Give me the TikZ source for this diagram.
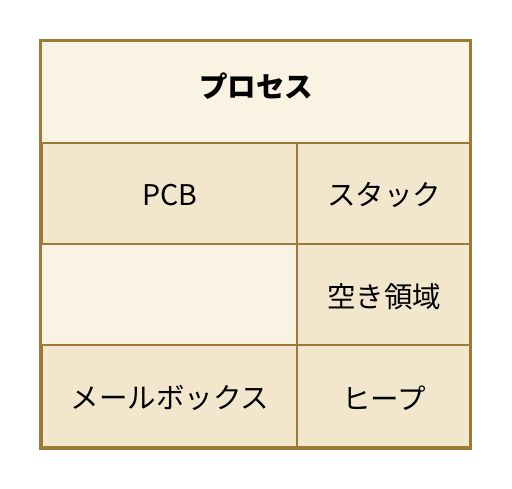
\documentclass[tikz,border=0pt]{standalone}
\usepackage{fontspec}
\setmainfont{Noto Sans CJK JP}
\definecolor{frame}{HTML}{9C7A36}
\definecolor{light}{HTML}{FAF3E4}
\definecolor{cell}{HTML}{F2E6CD}
\begin{document}
\begin{tikzpicture}[x=1pt,y=-1pt,
  cellbox/.style={draw=frame,line width=2pt,fill=cell},
  lbl/.style={font=\fontsize{28.5}{32}\selectfont,text=black}]
\useasboundingbox (0,0) rectangle (512,489);
% outer frame
\draw[draw=frame,line width=3pt,fill=light] (40.5,40.5) rectangle (470.5,448);
% cells
\draw[cellbox] (41.5,143) rectangle (297,244);
\draw[cellbox] (297,143) rectangle (469.5,244);
\draw[cellbox] (297,244) rectangle (469.5,345);
\draw[cellbox] (41.5,345) rectangle (297,446.5);
\draw[cellbox] (297,345) rectangle (469.5,446.5);
\draw[draw=frame,line width=3pt] (40.5,40.5) rectangle (470.5,448);
% labels
\node[lbl,font=\fontsize{28.5}{32}\selectfont\bfseries] (title) at (256,86) {プロセス};
\node[lbl] (pcb) at (170,195) {PCB};
\node[lbl] (stack) at (384,195) {スタック};
\node[lbl] (free) at (384,297) {空き領域};
\node[lbl] (mail) at (170,398) {メールボックス};
\node[lbl] (heap) at (384,398) {ヒープ};
\end{tikzpicture}
\end{document}
